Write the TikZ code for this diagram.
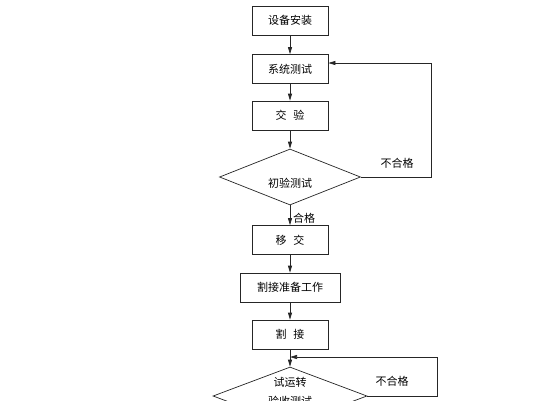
\documentclass[tikz,border=0pt]{standalone}
\usepackage{fontspec}
\newfontfamily\cjk{Noto Sans CJK SC}
\usetikzlibrary{arrows.meta,shapes.geometric}
\tikzset{
  box/.style={draw=black!85, line width=0.7pt, minimum width=76pt, minimum height=29pt, inner sep=0pt, font=\cjk\fontsize{11}{13}\selectfont},
  dia/.style={draw=black!85, line width=0.7pt, diamond, inner sep=0pt, font=\cjk\fontsize{11}{13}\selectfont},
  conn/.style={draw=black!85, line width=0.7pt, -{Triangle[length=7pt,width=4pt]}},
  line/.style={draw=black!85, line width=0.7pt},
  lbl/.style={font=\cjk\fontsize{11}{13}\selectfont, inner sep=0pt}
}
\begin{document}
\begin{tikzpicture}[x=1pt,y=-1pt]
\useasboundingbox (0,0) rectangle (548,400);
\clip (0,0) rectangle (548,400);
\fill[white] (0,0) rectangle (548,400);
\node[box] (s1) at (290,20.5) {设备安装};
\node[box] (s2) at (290,69) {系统测试};
\node[box] (s3) at (290,115.5) {交\hspace{0.6em}验};
\node[dia, minimum width=141pt, minimum height=56pt] (d1) at (290,177) {};
\node[lbl] (d1t) at (290,183) {初验测试};
\node[box] (s4) at (290,240) {移\hspace{0.6em}交};
\node[box, minimum width=100pt] (s5) at (290,287.5) {割接准备工作};
\node[box] (s6) at (290,334.5) {割\hspace{0.6em}接};
\node[dia, minimum width=154pt, minimum height=58pt] (d2) at (290,396) {};
\node[lbl, align=center] (d2t) at (290,392) {试运转\\[6pt]验收测试};
\coordinate (fb1) at (431,63);
\coordinate (fb2) at (437,357);
\coordinate (j) at (290,357);
\draw[conn] (s1) -- (s2);
\draw[conn] (s2) -- (s3);
\draw[conn] (s3) -- (d1.north);
\draw[conn] (d1.south) -- (s4);
\draw[conn] (s4) -- (s5);
\draw[conn] (s5) -- (s6);
\draw[conn] (s6) -- (d2.north);
\draw[conn] (d1.east) -- (d1.east -| fb1) -- (fb1) -- (fb1 -| s2.east);
\draw[conn] (d2.east) -- (d2.east -| fb2) -- (fb2) -- (j);
\node[lbl, anchor=west] (ok1) at (293,218) {合格};
\node[lbl] (ng1) at (397,163) {不合格};
\node[lbl] (ng2) at (392,381) {不合格};
\end{tikzpicture}
\end{document}
